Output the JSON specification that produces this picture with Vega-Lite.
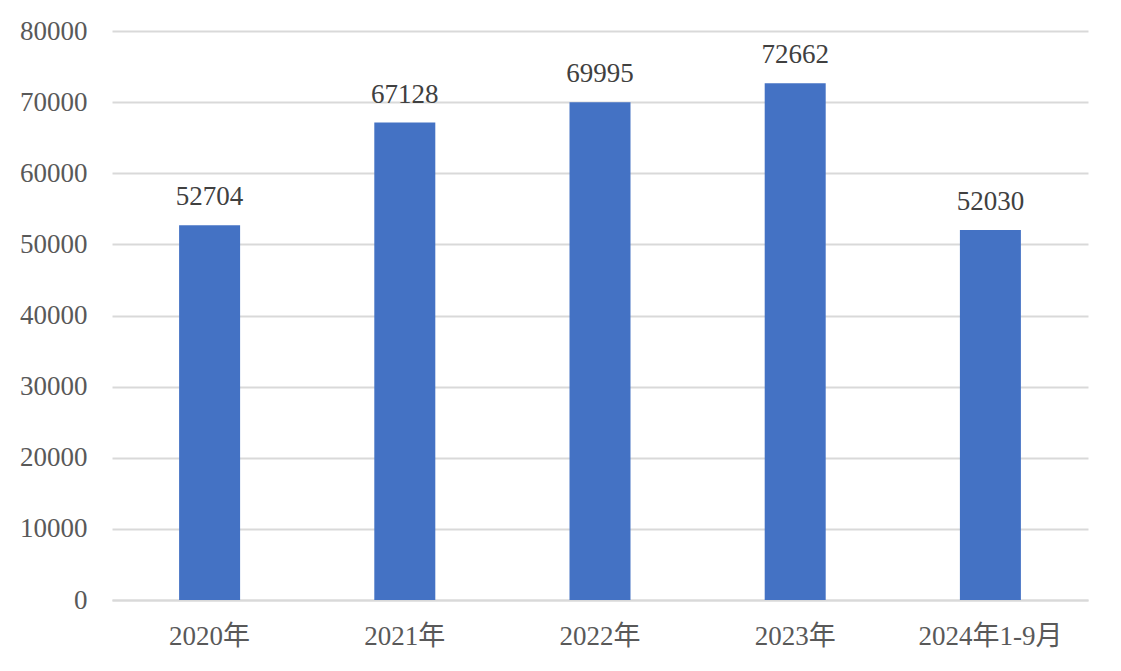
{
  "$schema": "https://vega.github.io/schema/vega-lite/v6.json",
  "autosize": {"type": "none"},
  "width": 976,
  "height": 569,
  "padding": {"left": 112, "top": 31, "right": 33, "bottom": 71},
  "background": "white",
  "data": {"values": [
    {"period": "2020年", "value": 52704},
    {"period": "2021年", "value": 67128},
    {"period": "2022年", "value": 69995},
    {"period": "2023年", "value": 72662},
    {"period": "2024年1-9月", "value": 52030}
  ]},
  "config": {
    "view": {"stroke": null},
    "font": "Liberation Serif, Noto Sans CJK SC",
    "axis": {"labelFont": "Liberation Serif, Noto Sans CJK SC"}
  },
  "encoding": {
    "x": {
      "field": "period", "type": "nominal", "sort": null,
      "scale": {"paddingInner": 0.6875, "paddingOuter": 0.34375},
      "axis": {"title": null, "labelAngle": 0, "labelFontSize": 27, "labelColor": "#595959", "ticks": false, "domain": true, "domainColor": "#d9d9d9", "domainWidth": 2, "labelPadding": 23}
    },
    "y": {
      "field": "value", "type": "quantitative",
      "scale": {"domain": [0, 80000], "nice": false},
      "axis": {"title": null, "values": [0,10000,20000,30000,40000,50000,60000,70000,80000], "format": "d", "labelFontSize": 27, "labelColor": "#595959", "ticks": false, "domain": false, "gridColor": "#d9d9d9", "gridWidth": 2, "labelPadding": 25}
    }
  },
  "layer": [
    {"mark": {"type": "bar", "color": "#4472C4"}},
    {"mark": {"type": "text", "fontSize": 27, "color": "#404040", "dy": -28, "baseline": "middle"}, "encoding": {"text": {"field": "value", "type": "quantitative", "format": "d"}}}
  ]
}
